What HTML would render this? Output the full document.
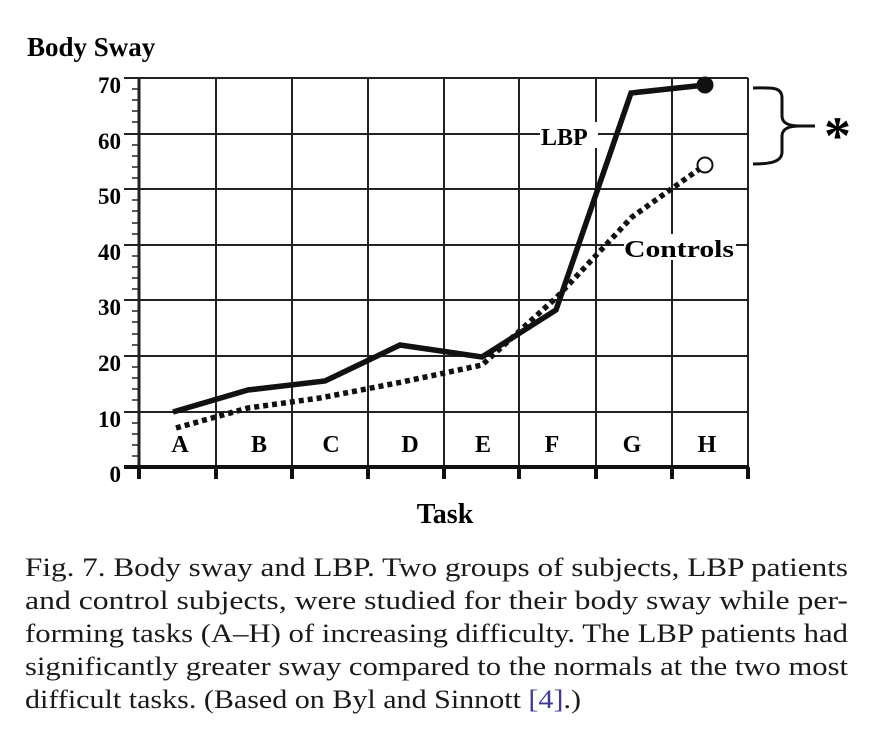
<!DOCTYPE html>
<html><head><meta charset="utf-8"><style>html,body{margin:0;padding:0;background:#fff}svg{display:block}</style></head>
<body>
<svg width="871" height="748" xmlns="http://www.w3.org/2000/svg" font-family="Liberation Serif, serif">
<rect width="871" height="748" fill="#fff"/>
<text x="27" y="56" font-size="27" font-weight="bold">Body Sway</text>
<g stroke="#222" stroke-width="2" fill="none">
<line x1="124" y1="78" x2="748" y2="78"/>
<line x1="124" y1="134" x2="748" y2="134"/>
<line x1="124" y1="189" x2="748" y2="189"/>
<line x1="124" y1="245" x2="748" y2="245"/>
<line x1="124" y1="300" x2="748" y2="300"/>
<line x1="124" y1="356" x2="748" y2="356"/>
<line x1="124" y1="412" x2="748" y2="412"/>
<line x1="216" y1="78" x2="216" y2="467"/>
<line x1="292" y1="78" x2="292" y2="467"/>
<line x1="368" y1="78" x2="368" y2="467"/>
<line x1="444" y1="78" x2="444" y2="467"/>
<line x1="519" y1="78" x2="519" y2="467"/>
<line x1="596" y1="78" x2="596" y2="467"/>
<line x1="672" y1="78" x2="672" y2="467"/>
<line x1="748" y1="78" x2="748" y2="467"/>
<line x1="139" y1="78" x2="139" y2="478" stroke-width="3"/>
</g>
<g stroke="#222" stroke-width="1.5">
<line x1="132" y1="89" x2="139" y2="89"/><line x1="132" y1="100" x2="139" y2="100"/><line x1="132" y1="111" x2="139" y2="111"/><line x1="132" y1="122" x2="139" y2="122"/>
<line x1="132" y1="145" x2="139" y2="145"/><line x1="132" y1="156" x2="139" y2="156"/><line x1="132" y1="167" x2="139" y2="167"/><line x1="132" y1="178" x2="139" y2="178"/>
<line x1="132" y1="200" x2="139" y2="200"/><line x1="132" y1="211" x2="139" y2="211"/><line x1="132" y1="223" x2="139" y2="223"/><line x1="132" y1="234" x2="139" y2="234"/>
<line x1="132" y1="256" x2="139" y2="256"/><line x1="132" y1="267" x2="139" y2="267"/><line x1="132" y1="278" x2="139" y2="278"/><line x1="132" y1="289" x2="139" y2="289"/>
<line x1="132" y1="311" x2="139" y2="311"/><line x1="132" y1="322" x2="139" y2="322"/><line x1="132" y1="334" x2="139" y2="334"/><line x1="132" y1="345" x2="139" y2="345"/>
<line x1="132" y1="367" x2="139" y2="367"/><line x1="132" y1="378" x2="139" y2="378"/><line x1="132" y1="389" x2="139" y2="389"/><line x1="132" y1="400" x2="139" y2="400"/>
<line x1="132" y1="423" x2="139" y2="423"/><line x1="132" y1="434" x2="139" y2="434"/><line x1="132" y1="445" x2="139" y2="445"/><line x1="132" y1="456" x2="139" y2="456"/>
</g>
<line x1="124" y1="467" x2="749" y2="467" stroke="#111" stroke-width="4"/>
<g stroke="#111" stroke-width="4">
<line x1="139" y1="467" x2="139" y2="479"/><line x1="216" y1="467" x2="216" y2="479"/><line x1="292" y1="467" x2="292" y2="479"/><line x1="368" y1="467" x2="368" y2="479"/><line x1="444" y1="467" x2="444" y2="479"/><line x1="519" y1="467" x2="519" y2="479"/><line x1="596" y1="467" x2="596" y2="479"/><line x1="672" y1="467" x2="672" y2="479"/><line x1="748" y1="467" x2="748" y2="479"/>
</g>
<g font-size="23" font-weight="bold" text-anchor="end">
<text x="121" y="93">70</text><text x="121" y="149">60</text><text x="121" y="204">50</text><text x="121" y="260">40</text><text x="121" y="315">30</text><text x="121" y="371">20</text><text x="121" y="427">10</text><text x="121" y="482">0</text>
</g>
<g font-size="24" font-weight="bold" text-anchor="middle">
<text x="180" y="452">A</text><text x="259" y="452">B</text><text x="331" y="452">C</text><text x="410" y="452">D</text><text x="483" y="452">E</text><text x="552" y="452">F</text><text x="632" y="452">G</text><text x="707" y="452">H</text>
</g>
<polyline points="176,428 248,408 320,398 402,382 482,365 557,297 632,217 705,165" fill="none" stroke="#111" stroke-width="5.5" stroke-dasharray="5,4"/>
<polyline points="173,412 248,390 325,381 400,345 482,357 556,310 631,93 705,85" fill="none" stroke="#111" stroke-width="5.5"/>
<circle cx="705" cy="85" r="8.5" fill="#111"/>
<circle cx="705" cy="165" r="7.5" fill="#fff" stroke="#111" stroke-width="2"/>
<rect x="540" y="122" width="58" height="26" fill="#fff"/>
<text x="541" y="145" font-size="24" font-weight="bold">LBP</text>
<rect x="624" y="234" width="112" height="26" fill="#fff"/>
<text x="624" y="257" font-size="24" font-weight="bold" textLength="110" lengthAdjust="spacingAndGlyphs">Controls</text>
<path d="M753,88 C770,88 782,86 782,98 L782,116 C782,124 790,126 800,126 L815,126 M800,126 C790,126 782,128 782,136 L782,152 C782,162 770,164 753,164" fill="none" stroke="#111" stroke-width="3"/>
<text x="824" y="154" font-size="54" font-weight="bold">*</text>
<text x="445" y="523" font-size="28" font-weight="bold" text-anchor="middle">Task</text>
<g font-size="26" fill="#1a1a1a">
<text x="25" y="576" textLength="823" lengthAdjust="spacingAndGlyphs">Fig. 7.   Body sway and LBP. Two groups of subjects, LBP patients</text>
<text x="25" y="609" textLength="823" lengthAdjust="spacingAndGlyphs">and control subjects, were studied for their body sway while per-</text>
<text x="25" y="642" textLength="823" lengthAdjust="spacingAndGlyphs">forming tasks (A–H) of increasing difficulty. The LBP patients had</text>
<text x="25" y="675" textLength="823" lengthAdjust="spacingAndGlyphs">significantly greater sway compared to the normals at the two most</text>
<text x="25" y="708" textLength="556" lengthAdjust="spacingAndGlyphs">difficult tasks. (Based on Byl and Sinnott <tspan fill="#3b3b9a">[4]</tspan>.)</text>
</g>
</svg>
</body></html>
